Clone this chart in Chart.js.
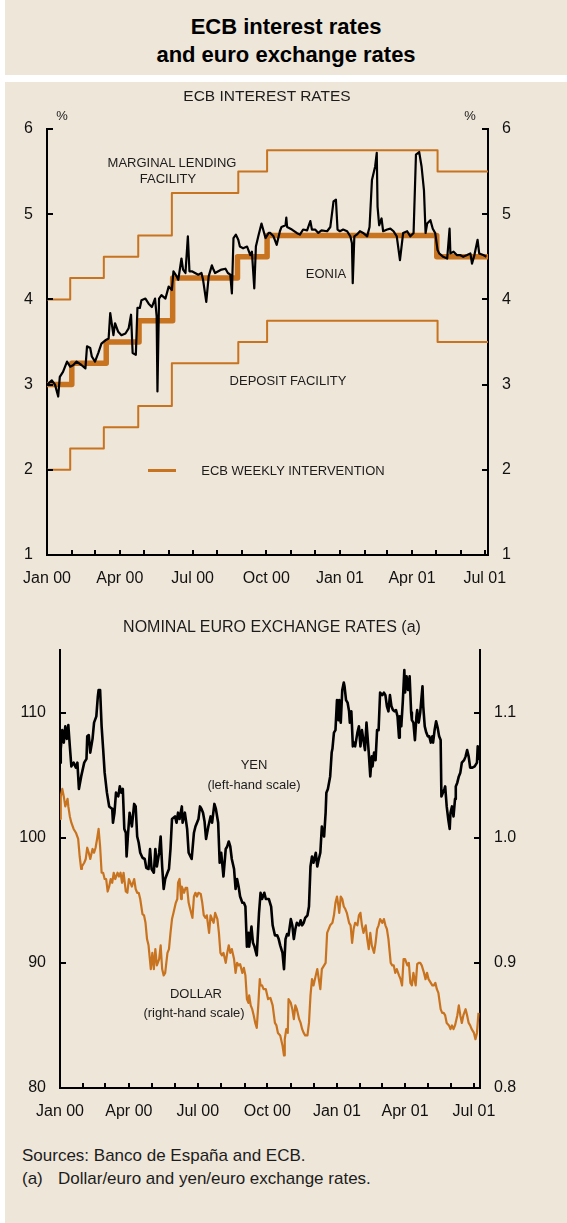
<!DOCTYPE html>
<html>
<head>
<meta charset="utf-8">
<title>ECB interest rates and euro exchange rates</title>
<script src="https://cdn.jsdelivr.net/npm/chart.js@4.4.1/dist/chart.umd.min.js"></script>
<style>
    html, body { margin: 0; padding: 0; background: #ffffff; }
    body { position: relative; width: 567px; height: 1223px; overflow: hidden;
           font-family: "Liberation Sans", Arial, sans-serif; color: #1c1c1c; }
    .panel { position: absolute; left: 5px; width: 562px; background: #eee6d9; }
    .wrap { position: absolute; left: 0; width: 567px; }
    .txt { position: absolute; white-space: nowrap; line-height: 1; transform: translate(-50%, -50%); }
    .lft { transform: translate(0, -50%); }
    .note { font-size: 13px; }
    .key { position: absolute; left: 148px; top: 469px; width: 28px; height: 3px; background: #c8731f; }
</style>
</head>
<body>
<div class="panel" style="top:0;height:75px"></div>
<div class="panel" style="top:82px;height:1141px"></div>

<div class="wrap" style="top:100px;height:500px"><canvas id="ratesChart" width="567" height="500"></canvas></div>
<div class="wrap" style="top:600px;height:530px"><canvas id="fxChart" width="567" height="530"></canvas></div>

<div class="txt" style="left:286px;top:27px;font-size:22px;font-weight:bold;color:#000">ECB interest rates</div>
<div class="txt" style="left:286px;top:55px;font-size:22px;font-weight:bold;color:#000">and euro exchange rates</div>

<div class="txt" style="left:267px;top:96px;font-size:15.5px">ECB INTEREST RATES</div>
<div class="txt" style="left:62px;top:115px;font-size:13px">%</div>
<div class="txt" style="left:470px;top:115px;font-size:13px">%</div>
<div class="txt note" style="left:172px;top:162px">MARGINAL LENDING</div>
<div class="txt note" style="left:168px;top:178px">FACILITY</div>
<div class="txt note" style="left:326px;top:273px">EONIA</div>
<div class="txt note" style="left:288px;top:380px">DEPOSIT FACILITY</div>
<div class="key"></div>
<div class="txt note" style="left:293px;top:470px">ECB WEEKLY INTERVENTION</div>

<div class="txt" style="left:272px;top:627px;font-size:16px">NOMINAL EURO EXCHANGE RATES (a)</div>
<div class="txt note" style="left:254px;top:764px">YEN</div>
<div class="txt note" style="left:254px;top:784px">(left-hand scale)</div>
<div class="txt note" style="left:196px;top:993px">DOLLAR</div>
<div class="txt note" style="left:194px;top:1012px">(right-hand scale)</div>

<div class="txt lft" style="left:22px;top:1155px;font-size:17px">Sources: Banco de España and ECB.</div>
<div class="txt lft" style="left:22px;top:1178px;font-size:17px">(a)</div>
<div class="txt lft" style="left:58px;top:1178px;font-size:17px">Dollar/euro and yen/euro exchange rates.</div>

<script>
// =========================
// DATA (x = days since 1 Jan 2000)
// =========================
const monthDays = [0, 31, 60, 91, 121, 152, 182, 213, 244, 274, 305, 335, 366, 397, 425, 456, 486, 517, 547];
const labelDays = [0, 91, 182, 274, 366, 456, 547];
const labelNames = ['Jan 00', 'Apr 00', 'Jul 00', 'Oct 00', 'Jan 01', 'Apr 01', 'Jul 01'];

const rateTicks = [1, 2, 3, 4, 5, 6];
const yenTicks = [80, 90, 100, 110];
const usdTicks = [0.8, 0.9, 1.0, 1.1];

// official rates (step changes)
const facilityDays = [0, 29, 71, 114, 156, 239, 275, 488, 551];
const lendingRates = [4.00, 4.25, 4.50, 4.75, 5.25, 5.50, 5.75, 5.50, 5.50];
const depositRates = [2.00, 2.25, 2.50, 2.75, 3.25, 3.50, 3.75, 3.50, 3.50];
const refiDays = [0, 31, 74, 115, 157, 238, 275, 487, 551];
const refiRates = [3.00, 3.25, 3.50, 3.75, 4.25, 4.50, 4.75, 4.50, 4.50];

// EONIA
const eoniaDays = [
    0, 6, 10, 14, 16, 20, 25, 29, 33, 37,
    43, 48, 50, 54, 56, 60, 64, 68, 73, 77,
    79, 83, 85, 89, 93, 98, 102, 105, 107, 111,
    113, 116, 118, 123, 127, 131, 135, 137, 138, 140,
    143, 148, 152, 156, 158, 162, 164, 168, 170, 173,
    176, 178, 181, 185, 189, 193, 195, 199, 202, 206,
    208, 210, 214, 218, 223, 226, 229, 231, 233, 236,
    239, 241, 245, 250, 254, 256, 259, 261, 264, 268,
    273, 277, 279, 283, 287, 291, 293, 298, 299, 300,
    306, 312, 316, 320, 325, 329, 331, 335, 339, 343,
    350, 354, 358, 361, 363, 366, 370, 375, 379, 381,
    382, 384, 387, 391, 395, 400, 403, 406, 410, 412,
    413, 415, 418, 420, 425, 429, 433, 437, 441, 445,
    450, 454, 458, 461, 465, 468, 471, 473, 475, 479,
    482, 485, 488, 490, 495, 500, 503, 504, 508, 512,
    516, 520, 525, 529, 531, 534, 538, 540, 545, 549
];
const eoniaRates = [
    3.00, 3.05, 3.00, 2.86, 3.09, 3.15, 3.27, 3.21, 3.23, 3.27,
    3.23, 3.19, 3.45, 3.43, 3.33, 3.27, 3.37, 3.48, 3.52, 3.54,
    3.84, 3.58, 3.72, 3.62, 3.58, 3.60, 3.66, 3.82, 3.37, 3.35,
    3.90, 3.90, 3.99, 4.01, 3.95, 3.91, 4.01, 3.80, 2.92, 4.01,
    4.05, 4.01, 4.15, 4.11, 4.33, 4.27, 4.23, 4.48, 4.35, 4.31,
    4.74, 4.33, 4.33, 4.31, 4.29, 4.31, 4.23, 3.97, 4.27, 4.40,
    4.35, 4.31, 4.33, 4.35, 4.36, 4.31, 4.29, 4.07, 4.72, 4.76,
    4.70, 4.62, 4.60, 4.62, 4.52, 4.56, 4.13, 4.62, 4.74, 4.89,
    4.72, 4.78, 4.78, 4.74, 4.64, 4.80, 4.85, 4.87, 4.96, 4.85,
    4.82, 4.78, 4.76, 4.82, 4.81, 4.92, 4.82, 4.82, 4.78, 4.81,
    4.80, 4.85, 5.15, 5.17, 4.82, 4.80, 4.82, 4.80, 4.74, 4.66,
    4.19, 4.74, 4.76, 4.80, 4.78, 4.74, 4.85, 5.40, 5.56, 5.72,
    5.09, 4.87, 4.95, 4.80, 4.82, 4.83, 4.80, 4.74, 4.46, 4.78,
    4.80, 4.74, 4.78, 5.70, 5.73, 5.56, 5.28, 4.78, 4.89, 4.93,
    4.83, 4.78, 4.58, 4.54, 4.50, 4.48, 4.83, 4.54, 4.56, 4.52,
    4.52, 4.50, 4.52, 4.54, 4.42, 4.52, 4.70, 4.54, 4.52, 4.50
];

// yen per euro (left-hand scale)
const yenDays = [
    0, 1, 3, 5, 7, 9, 11, 13, 15, 18,
    21, 23, 25, 28, 32, 35, 36, 38, 40, 43,
    45, 48, 50, 51, 53, 55, 57, 59, 62, 65,
    67, 69, 70, 72, 74, 77, 79, 81, 83, 85,
    87, 88, 90, 92, 95, 96, 98, 100, 102, 104,
    106, 109, 112, 114, 117, 119, 121, 124, 126, 128,
    131, 133, 135, 137, 139, 142, 144, 146, 148, 152,
    154, 156, 158, 161, 162, 165, 168, 170, 174, 177,
    179, 183, 185, 187, 189, 191, 193, 196, 199, 201,
    204, 206, 209, 211, 213, 216, 219, 221, 223, 225,
    227, 230, 232, 234, 236, 238, 241, 243, 245, 247,
    249, 250, 253, 255, 257, 260, 263, 265, 267, 270,
    272, 276, 279, 281, 284, 287, 289, 291, 294, 296,
    298, 300, 302, 305, 307, 309, 311, 313, 316, 318,
    320, 322, 324, 327, 329, 331, 333, 335, 338, 340,
    342, 344, 346, 347, 349, 351, 352, 354, 357, 359,
    360, 362, 364, 366, 368, 369, 371, 373, 375, 376,
    378, 380, 382, 383, 385, 387, 389, 390, 393, 395,
    397, 399, 401, 403, 405, 406, 408, 410, 412, 413,
    415, 417, 419, 421, 423, 426, 428, 430, 432, 434,
    436, 438, 440, 442, 444, 446, 448, 449, 451, 453,
    455, 456, 458, 460, 462, 464, 465, 467, 469, 471,
    472, 474, 476, 479, 480, 482, 484, 486, 488, 490,
    492, 493, 495, 497, 499, 501, 503, 504, 506, 508,
    509, 511, 513, 515, 516, 518, 520, 522, 523, 525,
    527, 529, 531, 534, 536, 538, 540, 542, 544, 545,
    548, 551, 552, 554
];
const yenValues = [
    106.0, 107.1, 108.6, 107.6, 108.9, 107.9, 109.0, 107.3, 105.7, 106.0,
    105.6, 106.0, 103.9, 104.9, 106.0, 106.3, 108.1, 108.2, 106.8, 107.9,
    109.2, 109.7, 111.3, 111.8, 111.8, 108.9, 107.1, 105.2, 103.6, 102.5,
    102.4, 102.3, 101.2, 102.0, 103.6, 103.3, 104.1, 103.6, 103.9, 100.7,
    100.4, 98.5, 100.4, 102.0, 100.9, 101.5, 102.7, 102.5, 100.1, 99.6,
    98.8, 98.4, 98.3, 97.6, 97.5, 99.1, 97.5, 97.2, 99.1, 97.7,
    98.8, 100.1, 97.7, 95.9, 96.7, 97.2, 97.5, 99.1, 101.5, 101.7,
    101.2, 102.0, 101.5, 102.5, 101.2, 102.0, 100.7, 98.8, 98.3, 100.4,
    100.9, 101.5, 102.5, 102.3, 102.0, 101.3, 99.9, 100.9, 101.7, 101.2,
    102.7, 102.3, 101.2, 98.0, 98.8, 96.9, 99.1, 99.3, 99.7, 99.3,
    98.3, 97.5, 95.9, 96.7, 96.1, 95.3, 94.8, 94.8, 94.5, 91.3,
    92.4, 91.3, 92.9, 91.6, 91.3, 90.6, 94.0, 95.6, 95.1, 95.6,
    95.1, 95.1, 94.5, 93.0, 92.2, 92.2, 91.9, 91.4, 90.8, 89.5,
    91.9, 92.3, 92.2, 93.5, 93.0, 91.9, 92.7, 93.2, 93.0, 93.4,
    93.0, 93.2, 93.6, 93.8, 94.5, 97.7, 98.5, 98.0, 98.8, 97.7,
    98.3, 98.8, 100.9, 100.4, 100.1, 102.0, 103.6, 103.9, 104.9, 106.8,
    107.1, 108.4, 108.6, 111.0, 109.4, 111.0, 109.2, 111.8, 112.4, 112.1,
    111.0, 110.8, 110.1, 109.2, 110.1, 107.3, 107.6, 107.3, 108.4, 108.9,
    107.3, 108.6, 107.8, 107.0, 109.2, 108.4, 106.8, 104.9, 106.5, 105.7,
    106.8, 106.2, 108.6, 108.6, 111.6, 111.4, 111.6, 111.4, 110.5, 110.1,
    111.4, 110.5, 110.2, 110.1, 110.2, 109.7, 108.0, 109.7, 108.9, 110.9,
    113.4, 111.6, 112.9, 111.8, 112.9, 110.0, 109.4, 109.2, 107.8, 109.7,
    110.2, 109.2, 110.0, 112.1, 110.5, 108.9, 108.4, 108.1, 108.1, 107.6,
    108.1, 107.6, 108.6, 109.3, 108.8, 108.1, 107.8, 103.3, 103.6, 103.9,
    104.1, 102.5, 101.5, 100.7, 102.0, 102.5, 101.7, 103.1, 104.1, 104.4,
    104.9, 105.2, 106.0, 106.2, 106.5, 107.0, 106.5, 105.6, 105.6, 105.6,
    105.7, 106.0, 107.3, 106.2
];

// dollars per euro (right-hand scale)
const usdDays = [
    0, 1, 3, 5, 7, 10, 11, 13, 15, 18,
    21, 24, 26, 28, 29, 32, 34, 36, 38, 40,
    43, 45, 47, 49, 51, 53, 55, 57, 59, 61,
    63, 65, 67, 69, 71, 73, 76, 78, 80, 82,
    84, 87, 89, 91, 93, 95, 98, 100, 102, 104,
    106, 109, 111, 113, 115, 117, 120, 122, 124, 126,
    128, 131, 133, 135, 137, 139, 142, 144, 146, 148,
    150, 153, 155, 156, 158, 160, 161, 164, 166, 168,
    170, 172, 175, 177, 179, 181, 183, 186, 188, 190,
    192, 194, 197, 199, 201, 203, 205, 208, 210, 212,
    214, 216, 219, 221, 223, 225, 227, 230, 232, 234,
    236, 238, 241, 243, 245, 247, 249, 250, 252, 254,
    256, 258, 260, 262, 264, 265, 267, 269, 272, 275,
    278, 281, 284, 286, 288, 291, 294, 296, 297, 299,
    301, 302, 305, 307, 309, 311, 313, 316, 318, 320,
    322, 324, 327, 329, 331, 333, 335, 338, 340, 342,
    344, 346, 349, 351, 353, 355, 357, 360, 362, 364,
    366, 368, 369, 371, 373, 375, 377, 379, 382, 384,
    386, 388, 390, 393, 395, 397, 399, 401, 404, 406,
    408, 410, 412, 415, 417, 419, 421, 423, 426, 428,
    430, 432, 434, 437, 439, 441, 443, 445, 448, 450,
    452, 454, 456, 459, 461, 463, 465, 467, 470, 472,
    474, 476, 478, 481, 483, 485, 487, 490, 492, 494,
    496, 498, 500, 503, 505, 507, 509, 511, 514, 516,
    518, 520, 522, 525, 527, 529, 531, 533, 536, 538,
    540, 542, 544, 547, 549, 551, 553
];
const usdValues = [
    1.015, 1.033, 1.039, 1.033, 1.025, 1.031, 1.025, 1.017, 1.012, 1.007,
    1.004, 0.999, 0.985, 0.975, 0.977, 0.980, 0.983, 0.992, 0.988, 0.983,
    0.991, 0.988, 0.992, 0.999, 1.007, 0.993, 0.972, 0.972, 0.967, 0.967,
    0.957, 0.961, 0.967, 0.964, 0.972, 0.967, 0.972, 0.969, 0.972, 0.964,
    0.972, 0.957, 0.956, 0.967, 0.964, 0.961, 0.967, 0.959, 0.956, 0.956,
    0.951, 0.939, 0.938, 0.932, 0.919, 0.914, 0.895, 0.908, 0.895, 0.911,
    0.898, 0.903, 0.914, 0.895, 0.890, 0.892, 0.908, 0.911, 0.924, 0.935,
    0.940, 0.948, 0.951, 0.964, 0.967, 0.951, 0.961, 0.956, 0.960, 0.960,
    0.948, 0.943, 0.936, 0.953, 0.956, 0.953, 0.956, 0.955, 0.948, 0.938,
    0.936, 0.938, 0.924, 0.938, 0.935, 0.932, 0.940, 0.935, 0.924, 0.908,
    0.906, 0.908, 0.900, 0.908, 0.914, 0.908, 0.911, 0.903, 0.892, 0.900,
    0.898, 0.899, 0.892, 0.896, 0.890, 0.871, 0.868, 0.874, 0.866, 0.863,
    0.858, 0.852, 0.848, 0.866, 0.887, 0.882, 0.882, 0.879, 0.879, 0.871,
    0.872, 0.866, 0.852, 0.850, 0.844, 0.842, 0.834, 0.826, 0.839, 0.847,
    0.844, 0.871, 0.868, 0.863, 0.855, 0.866, 0.863, 0.855, 0.852, 0.847,
    0.844, 0.842, 0.842, 0.852, 0.874, 0.887, 0.882, 0.890, 0.895, 0.887,
    0.879, 0.895, 0.898, 0.900, 0.924, 0.927, 0.930, 0.932, 0.938, 0.948,
    0.953, 0.945, 0.940, 0.953, 0.951, 0.945, 0.943, 0.940, 0.932, 0.930,
    0.916, 0.927, 0.932, 0.930, 0.938, 0.940, 0.930, 0.924, 0.930, 0.919,
    0.911, 0.924, 0.914, 0.908, 0.916, 0.927, 0.930, 0.935, 0.932, 0.935,
    0.930, 0.927, 0.919, 0.900, 0.898, 0.898, 0.892, 0.895, 0.890, 0.887,
    0.882, 0.903, 0.903, 0.898, 0.900, 0.884, 0.882, 0.892, 0.882, 0.899,
    0.900, 0.900, 0.898, 0.892, 0.887, 0.892, 0.887, 0.884, 0.882, 0.882,
    0.884, 0.879, 0.876, 0.863, 0.860, 0.860, 0.858, 0.852, 0.850, 0.847,
    0.850, 0.847, 0.850, 0.858, 0.866, 0.858, 0.852, 0.858, 0.863, 0.858,
    0.852, 0.850, 0.847, 0.844, 0.839, 0.844, 0.860
];

// =========================
// HELPERS
// =========================
const ORANGE = '#c8731f';
const TICK_FONT = { family: 'Liberation Sans', size: 16 };

const toPoints = (days, values) => days.map((d, i) => ({ x: d, y: values[i] }));

// ticks drawn inwards, like the printed chart
const inwardTicks = {
    id: 'inwardTicks',
    afterDatasetsDraw(chart) {
        const ctx = chart.ctx;
        const area = chart.chartArea;
        ctx.save();
        ctx.strokeStyle = '#000';
        ctx.lineWidth = 2;
        Object.values(chart.scales).forEach(scale => {
            scale.ticks.forEach(t => {
                const p = Math.round(scale.getPixelForValue(t.value));
                ctx.beginPath();
                if (scale.axis === 'x') {
                    ctx.moveTo(p, area.bottom);
                    ctx.lineTo(p, area.bottom - 5);
                } else if (scale.position === 'left') {
                    ctx.moveTo(area.left, p);
                    ctx.lineTo(area.left + 6, p);
                } else {
                    ctx.moveTo(area.right, p);
                    ctx.lineTo(area.right - 6, p);
                }
                ctx.stroke();
            });
        });
        ctx.restore();
    }
};

function xAxis(max, height) {
    return {
        type: 'linear',
        min: 0,
        max: max,
        afterBuildTicks: s => { s.ticks = monthDays.map(v => ({ value: v })); },
        afterFit: s => { s.height = height; },
        grid: { display: false, drawTicks: false },
        border: { color: '#000', width: 2 },
        ticks: {
            autoSkip: false,
            maxRotation: 0,
            padding: 14,
            color: '#111',
            font: TICK_FONT,
            callback: v => {
                const i = labelDays.indexOf(v);
                return i >= 0 ? labelNames[i] : '';
            }
        }
    };
}

function yAxis(pos, min, max, tickList, width, fmt) {
    return {
        type: 'linear',
        position: pos,
        min: min,
        max: max,
        afterBuildTicks: s => { s.ticks = tickList.map(v => ({ value: v })); },
        afterFit: s => { s.width = width; },
        grid: { display: false, drawTicks: false },
        border: { color: '#000', width: 2 },
        ticks: {
            padding: 14,
            color: '#111',
            font: TICK_FONT,
            callback: fmt
        }
    };
}

const baseOptions = {
    responsive: false,
    animation: false,
    events: [],
    plugins: { legend: { display: false }, tooltip: { enabled: false } },
    elements: { point: { radius: 0 }, line: { tension: 0, borderJoinStyle: 'round' } }
};

// =========================
// ECB INTEREST RATES
// =========================
new Chart(document.getElementById('ratesChart'), {
    type: 'line',
    data: {
        datasets: [
            { label: 'EONIA', data: toPoints(eoniaDays, eoniaRates), borderColor: '#000', borderWidth: 2.2, yAxisID: 'y' },
            { label: 'Marginal lending facility', data: toPoints(facilityDays, lendingRates), borderColor: ORANGE, borderWidth: 2, stepped: true, yAxisID: 'y' },
            { label: 'Deposit facility', data: toPoints(facilityDays, depositRates), borderColor: ORANGE, borderWidth: 2, stepped: true, yAxisID: 'y' },
            { label: 'ECB weekly intervention', data: toPoints(refiDays, refiRates), borderColor: ORANGE, borderWidth: 5.5, stepped: true, yAxisID: 'y' }
        ]
    },
    options: Object.assign({}, baseOptions, {
        layout: { padding: { top: 29, left: 0, right: 0, bottom: 0 } },
        scales: {
            x: xAxis(551, 45),
            y: yAxis('left', 1, 6, rateTicks, 47, v => v),
            y2: yAxis('right', 1, 6, rateTicks, 79, v => v)
        }
    }),
    plugins: [inwardTicks]
});

// =========================
// NOMINAL EURO EXCHANGE RATES
// =========================
new Chart(document.getElementById('fxChart'), {
    type: 'line',
    data: {
        datasets: [
            { label: 'Yen', data: toPoints(yenDays, yenValues), borderColor: '#000', borderWidth: 2.6, yAxisID: 'y' },
            { label: 'Dollar', data: toPoints(usdDays, usdValues), borderColor: ORANGE, borderWidth: 2.2, yAxisID: 'y2' }
        ]
    },
    options: Object.assign({}, baseOptions, {
        layout: { padding: { top: 50, left: 0, right: 0, bottom: 0 } },
        scales: {
            x: xAxis(555, 42),
            y: yAxis('left', 80, 115, yenTicks, 60, v => v),
            y2: yAxis('right', 0.8, 1.15, usdTicks, 87, v => v.toFixed(1))
        }
    }),
    plugins: [inwardTicks]
});
</script>
</body>
</html>
